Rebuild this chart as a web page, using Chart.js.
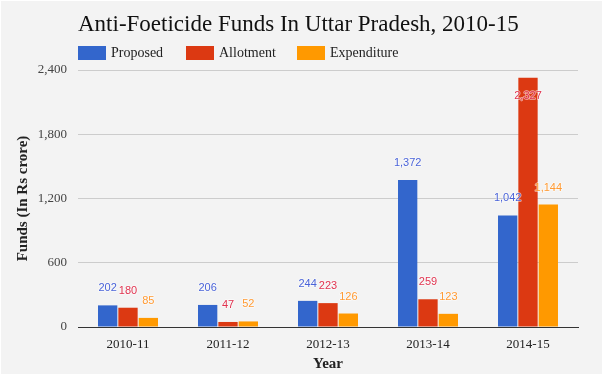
<!DOCTYPE html>
<html>
<head>
<meta charset="utf-8">
<script src="https://cdn.jsdelivr.net/npm/chart.js@4.4.0/dist/chart.umd.min.js"></script>
<style>
  html, body { margin: 0; padding: 0; background: #fff; }
  #wrap { width: 605px; height: 379px; position: relative; }
</style>
</head>
<body>
<div id="wrap"><canvas id="barChart" width="605" height="379"></canvas></div>
<script>
const years = ['2010-11', '2011-12', '2012-13', '2013-14', '2014-15'];
const proposed = [202, 206, 244, 1372, 1042];
const allotment = [180, 47, 223, 259, 2327];
const expenditure = [85, 52, 126, 123, 1144];
const yTicks = [0, 600, 1200, 1800, 2400];

const seriesNames = ['Proposed', 'Allotment', 'Expenditure'];
const barColors = ['#3366cc', '#dc3912', '#ff9900'];
const labelColors = ['#4a63d8', '#e0334f', '#ff9a33'];
const serif = '"Liberation Serif", "DejaVu Serif", serif';

// gray panel, title and legend drawn by hand so they line up with the plot
const decor = {
  id: 'decor',
  beforeDraw(chart) {
    const c = chart.ctx;
    c.save();
    c.fillStyle = '#f3f3f3';
    c.fillRect(1, 1, 601, 373);
    c.restore();
  },
  afterDraw(chart) {
    const c = chart.ctx;
    const left = chart.chartArea.left;
    c.save();
    c.fillStyle = '#111';
    c.font = '23px ' + serif;
    c.textBaseline = 'alphabetic';
    c.textAlign = 'left';
    c.fillText('Anti-Foeticide Funds In Uttar Pradesh, 2010-15', left, 31);

    c.font = '14px ' + serif;
    c.textBaseline = 'middle';
    let x = left;
    seriesNames.forEach((name, i) => {
      c.fillStyle = barColors[i];
      c.fillRect(x, 46, 28, 14);
      c.fillStyle = '#222';
      c.fillText(name, x + 33, 53);
      x = [186, 297][i];
    });
    c.restore();
  }
};

// value annotations above bars (inside when no room)
const valueLabels = {
  id: 'valueLabels',
  afterDatasetsDraw(chart) {
    const c = chart.ctx;
    const top = chart.chartArea.top;
    c.save();
    c.font = '11px "Liberation Sans", Arial, sans-serif';
    c.textAlign = 'center';
    c.textBaseline = 'middle';
    c.lineJoin = 'round';
    chart.data.datasets.forEach((ds, i) => {
      chart.getDatasetMeta(i).data.forEach((bar, j) => {
        let y = bar.y - 17;
        if (y < top) y = bar.y + 18;
        const txt = ds.data[j].toLocaleString('en-US');
        c.strokeStyle = 'rgba(255,255,255,0.6)';
        c.lineWidth = 1.5;
        c.strokeText(txt, bar.x, y);
        c.fillStyle = labelColors[i];
        c.fillText(txt, bar.x, y);
      });
    });
    c.restore();
  }
};

const ctx = document.getElementById('barChart').getContext('2d');
const barChart = new Chart(ctx, {
  type: 'bar',
  data: {
    labels: years,
    datasets: [proposed, allotment, expenditure].map((vals, i) => ({
      label: seriesNames[i],
      data: vals,
      backgroundColor: barColors[i],
      borderWidth: 0,
      categoryPercentage: 0.61,
      barPercentage: 0.95
    }))
  },
  options: {
    responsive: false,
    animation: false,
    layout: { padding: { top: 70, right: 27, left: 1, bottom: 0 } },
    plugins: {
      legend: { display: false },
      tooltip: { enabled: false }
    },
    scales: {
      x: {
        grid: { display: false },
        border: { color: '#333', width: 1 },
        ticks: { color: '#222', font: { family: serif, size: 13 }, padding: 2 },
        title: {
          display: true, text: 'Year', color: '#222',
          font: { family: serif, size: 15, weight: 'bold' },
          padding: { top: 2, bottom: 6 }
        },
        afterFit(scale) { scale.height = 52; }
      },
      y: {
        min: 0,
        max: 2400,
        afterBuildTicks(scale) { scale.ticks = yTicks.map(v => ({ value: v })); },
        grid: { color: '#cccccc', drawTicks: false },
        border: { display: false },
        ticks: {
          color: '#444', padding: 11,
          font: { family: serif, size: 13 },
          callback: v => v.toLocaleString('en-US')
        },
        title: {
          display: true, text: 'Funds (In Rs crore)', color: '#222',
          font: { family: serif, size: 15, weight: 'bold' },
          padding: { top: 13, bottom: 0 }
        },
        afterFit(scale) { scale.width = 77; }
      }
    }
  },
  plugins: [decor, valueLabels]
});
</script>
</body>
</html>
